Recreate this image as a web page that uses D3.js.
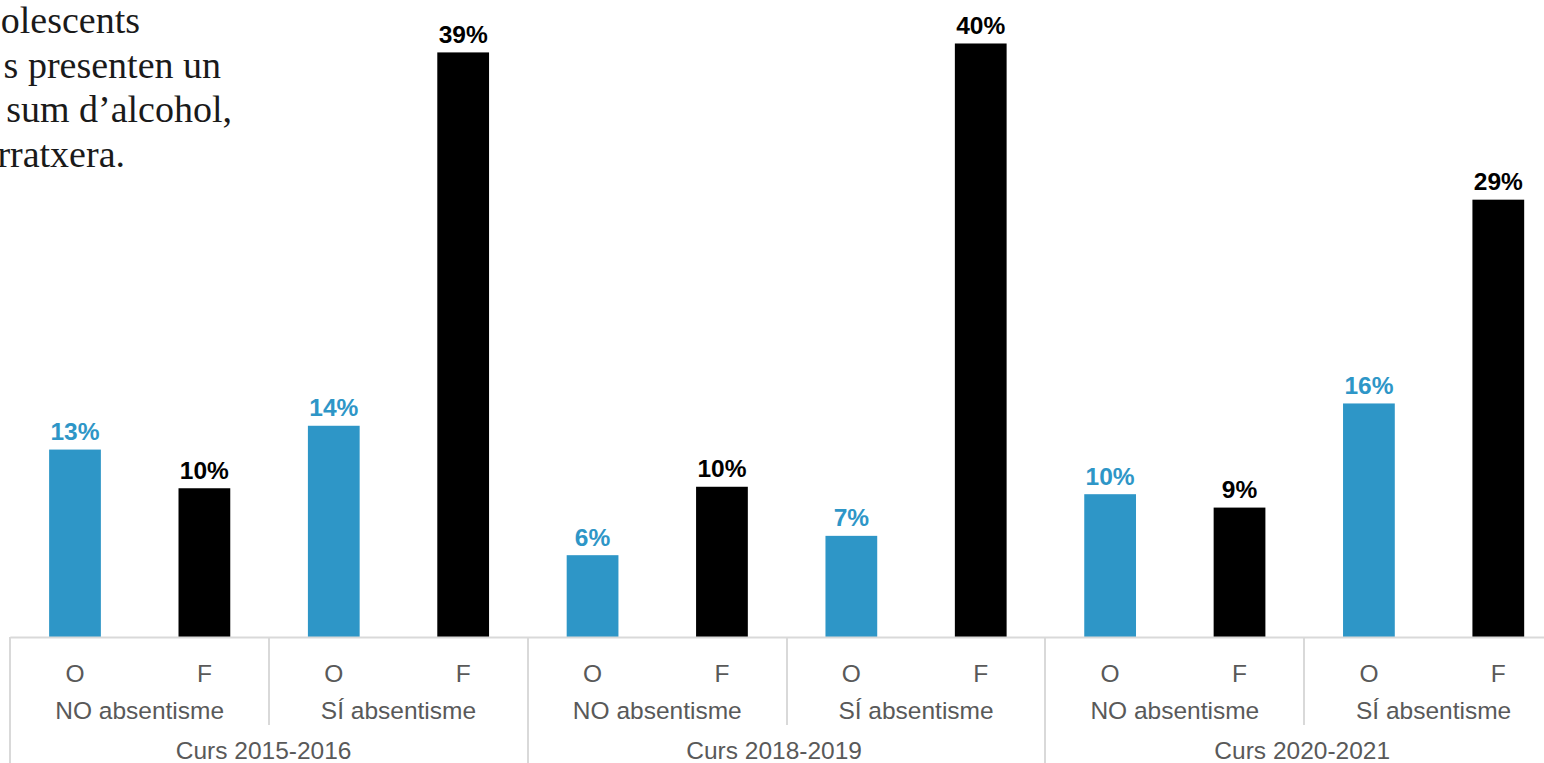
<!DOCTYPE html>
<html>
<head>
<meta charset="utf-8">
<script src="https://cdn.jsdelivr.net/npm/d3@7"></script>
<style>
  html, body { margin: 0; padding: 0; background: #fff; overflow: hidden; }
  svg { display: block; }
</style>
</head>
<body>
<svg id="chart" width="1544" height="763"></svg>
<script>
// ---- data ----
const courses = ["Curs 2015-2016", "Curs 2018-2019", "Curs 2020-2021"];
const absentism = ["NO absentisme", "SÍ absentisme"];
const sexes = ["O", "F"];
const values = [0.126, 0.100, 0.142, 0.393, 0.055, 0.101, 0.068, 0.399, 0.096, 0.087, 0.157, 0.294];
const valueLabels = ["13%", "10%", "14%", "39%", "6%", "10%", "7%", "40%", "10%", "9%", "16%", "29%"];
const titleLines = ["olescents", "s presenten un", "sum d\u2019alcohol,", "rratxera."];

const colors = { O: "#2E96C7", F: "#000000" };

// build rows
const rows = [];
courses.forEach((c, ci) => absentism.forEach((a, ai) => sexes.forEach((s, si) => {
  const i = ci * 4 + ai * 2 + si;
  rows.push({ id: i, course: c, abs: a, sex: s, value: values[i], label: valueLabels[i] });
})));

const svg = d3.select("#chart");
const x0 = 10.3, x1 = 1563, baseY = 637;

const x = d3.scaleBand().domain(rows.map(d => d.id)).range([x0, x1])
  .paddingInner(0.6).paddingOuter(0.3);
const y = d3.scaleLinear().domain([0, 0.4]).range([baseY, 42]);
const step = x.step();

// title fragments (cropped at left in the reference)
const title = svg.append("g").attr("font-family", "'Liberation Serif', 'Times New Roman', serif")
  .attr("font-size", 38).attr("fill", "#1a1a1a").attr("text-anchor", "end");
const titleRight = [140, 221, 232, 125];
titleLines.forEach((t, i) => {
  title.append("text").attr("x", titleRight[i]).attr("y", 33 + i * 44.7).text(t);
});

// bars
svg.append("g").selectAll("rect").data(rows).join("rect")
  .attr("x", d => x(d.id)).attr("width", x.bandwidth())
  .attr("y", d => y(d.value)).attr("height", d => baseY - y(d.value))
  .attr("fill", d => colors[d.sex]);

// value labels
svg.append("g").selectAll("text").data(rows).join("text")
  .attr("x", d => x(d.id) + x.bandwidth() / 2)
  .attr("y", d => y(d.value) - 9.5)
  .attr("text-anchor", "middle")
  .attr("font-family", "'Liberation Sans', Arial, sans-serif")
  .attr("font-weight", "bold").attr("font-size", 24.5)
  .attr("fill", d => colors[d.sex])
  .text(d => d.label);

// axis line
const axis = svg.append("g").attr("stroke", "#d9d9d9").attr("stroke-width", 2);
axis.append("line").attr("x1", x0).attr("x2", 1544).attr("y1", baseY + 0.5).attr("y2", baseY + 0.5);

// separators
for (let k = 0; k <= 6; k++) {
  const xs = Math.round(x0 + k * 2 * step);
  const full = k % 2 === 0;
  axis.append("line").attr("x1", xs).attr("x2", xs)
    .attr("y1", baseY).attr("y2", full ? 763 : 725);
}

// category text
const lab = svg.append("g").attr("font-family", "'Liberation Sans', Arial, sans-serif")
  .attr("font-size", 24.5).attr("fill", "#595959").attr("text-anchor", "middle");

lab.selectAll(".sex").data(rows).join("text")
  .attr("x", d => x(d.id) + x.bandwidth() / 2).attr("y", 682).text(d => d.sex);

const absGroups = [];
courses.forEach((c, ci) => absentism.forEach((a, ai) => absGroups.push({ name: a, idx: ci * 2 + ai })));
lab.selectAll(".abs").data(absGroups).join("text")
  .attr("x", d => x0 + (d.idx * 2 + 1) * step).attr("y", 719).text(d => d.name);

// course labels (slight shifts as in the reference layout)
const courseShift = [-5.5, -12.5, -2];
lab.selectAll(".course").data(courses).join("text")
  .attr("x", (d, i) => x0 + (i * 4 + 2) * step + courseShift[i]).attr("y", 759).text(d => d);
</script>
</body>
</html>
